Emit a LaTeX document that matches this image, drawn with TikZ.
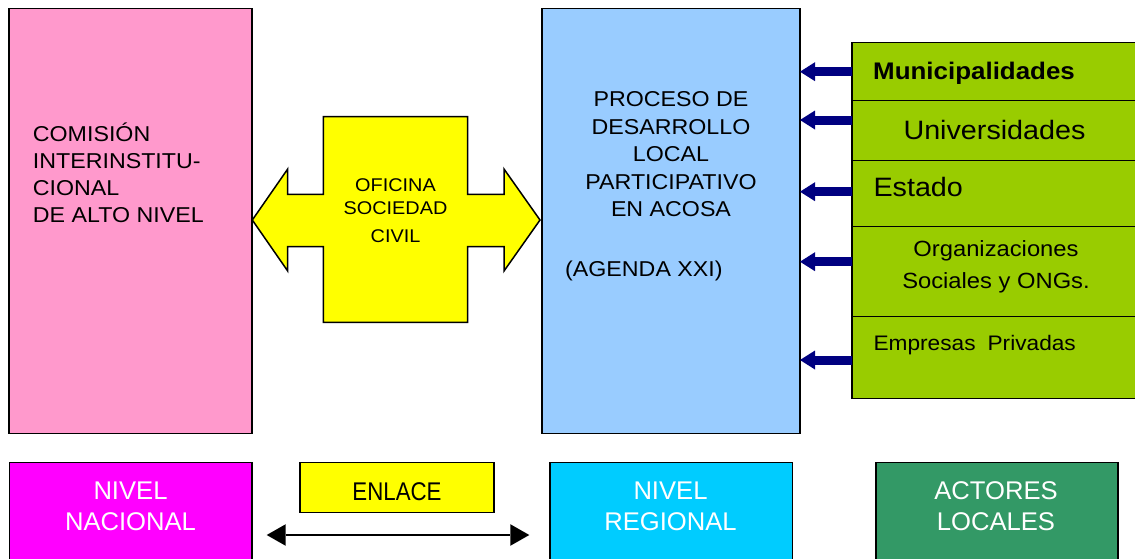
\documentclass[tikz,border=0pt]{standalone}
\usepackage{fontspec}
\setmainfont{Liberation Sans}[FakeStretch=1.08]
\newfontfamily\nivelfont{Liberation Sans}
\newfontfamily\enlacefont{Liberation Sans}[FakeStretch=0.87]
\usepackage{xcolor}
\usepackage{tikz}
\usetikzlibrary{arrows.meta}

\definecolor{rosa}{HTML}{FF99CC}
\definecolor{celeste}{HTML}{99CCFF}
\definecolor{verdelima}{HTML}{99CC00}
\definecolor{amarillo}{HTML}{FFFF00}
\definecolor{fucsia}{HTML}{FF00FF}
\definecolor{turquesa}{HTML}{00CCFF}
\definecolor{verdemar}{HTML}{339966}
\definecolor{azulmarino}{HTML}{000080}

\newcommand{\tam}[2]{\fontsize{#1}{#2}\selectfont}

\begin{document}
\begin{tikzpicture}[x=1pt, y=-1pt,
		caja/.style={draw, line width=1.5pt, inner sep=0pt, outer sep=0pt, anchor=north west},
		texto/.style={inner sep=0pt, anchor=north west, align=left},
		linea/.style={inner sep=0pt, anchor=base west},
		nivel/.style={inner sep=0pt, anchor=north, align=center, text=white, font={\nivelfont\tam{25.6}{30.7}}},
		flecha/.style={draw=azulmarino, line width=9pt, -{Triangle[length=15pt, width=19pt, line width=0pt]}},
		enlace/.style={line width=1.5pt, {Triangle[length=19pt, width=21.6pt, line width=0pt]}-{Triangle[length=19pt, width=21.6pt, line width=0pt]}}]
			\path[use as bounding box, fill=white] (0,0) rectangle (1135,558);

			% niveles
			\node[caja, fill=rosa, minimum width=243pt, minimum height=425pt] (com) at (9,8.5) {};
			\node[caja, fill=celeste, minimum width=258pt, minimum height=425pt] (proc) at (542,8.5) {};
			\node[texto, font={\tam{21.5}{26.7}}] (comtxt) at (32.7,121.7)
			{\rule{0pt}{20pt}COMISIÓN\\INTERINSTITU-\\CIONAL\\DE ALTO NIVEL};
			\node[texto, anchor=north, align=center, font={\tam{21.5}{27.5}}] (proctxt) at (671,86.7)
			{\rule{0pt}{20pt}PROCESO DE\\DESARROLLO\\LOCAL\\PARTICIPATIVO\\EN ACOSA};
			\node[linea, font={\tam{21.5}{26}}] (agenda) at (565,276.7) {(AGENDA XXI)};

			% oficina
			\draw[fill=amarillo, line width=1.5pt] (323.3,116.7) -- (467.7,116.7) -- (467.7,194.3) -- (504,194.3)
				-- (504,169) -- (540,220) -- (504,271) -- (504,246.7) -- (467.7,246.7) -- (467.7,322.3)
				-- (323.3,322.3) -- (323.3,246.7) -- (287.7,246.7) -- (287.7,271) -- (252.3,220)
				-- (287.7,169) -- (287.7,194.3) -- (323.3,194.3) -- cycle;
			\node[texto, anchor=north, align=center, font={\tam{18.4}{22.6}}] (ofi) at (395.5,174.7)
			{\rule{0pt}{17pt}OFICINA\\SOCIEDAD\\[5.8pt]CIVIL};

			% actores
			\node[caja, fill=verdelima, minimum width=293pt, minimum height=58pt] (mun) at (852,42.7) {};
			\node[caja, fill=verdelima, minimum width=293pt, minimum height=60pt] (univ) at (mun.south west) {};
			\node[caja, fill=verdelima, minimum width=293pt, minimum height=66pt] (est) at (univ.south west) {};
			\node[caja, fill=verdelima, minimum width=293pt, minimum height=90pt] (org) at (est.south west) {};
			\node[caja, fill=verdelima, minimum width=293pt, minimum height=81.6pt] (emp) at (org.south west) {};
			\node[linea, font={\bfseries\tam{24}{28}}] (muntxt) at (873,79.3) {Municipalidades};
			\node[linea, font={\tam{26.6}{30}}] (univtxt) at (903.3,139) {Universidades};
			\node[linea, font={\tam{26.6}{30}}] (esttxt) at (873.3,196.7) {Estado};
			\node[texto, anchor=north, align=center, font={\tam{22}{31.6}}] (orgtxt) at (996,239.7)
			{\rule{0pt}{17pt}Organizaciones\\Sociales y ONGs.};
			\node[linea, font={\tam{21}{25}}] (emptxt) at (873.3,350) {Empresas\hspace{12pt}Privadas};

			\draw[flecha] (mun.west) -- (mun.west -| proc.east);
			\draw[flecha] ([yshift=10.7pt]univ.west) -- ([yshift=10.7pt]univ.west -| proc.east);
			\draw[flecha] ([yshift=2pt]est.west) -- ([yshift=2pt]est.west -| proc.east);
			\draw[flecha] ([yshift=10pt]org.west) -- ([yshift=10pt]org.west -| proc.east);
			\draw[flecha] ([yshift=-2.5pt]emp.west) -- ([yshift=-2.5pt]emp.west -| proc.east);

			% leyenda
			\node[caja, fill=fucsia, minimum width=242.5pt, minimum height=110pt] (nac) at (9.5,462.5) {};
			\node[caja, fill=amarillo, minimum width=194pt, minimum height=50.4pt] (enl) at (300,462.3) {};
			\node[caja, fill=turquesa, minimum width=242.5pt, minimum height=110pt] (reg) at (550,462.5) {};
			\node[caja, fill=verdemar, minimum width=242pt, minimum height=110pt] (act) at (876,462.5) {};
			\node[nivel] (nactxt) at (130.5,480.3) {\rule{0pt}{19pt}NIVEL\\NACIONAL};
			\node[nivel] (regtxt) at (670.5,480.3) {\rule{0pt}{19pt}NIVEL\\REGIONAL};
			\node[nivel] (acttxt) at (996,480.3) {\rule{0pt}{19pt}ACTORES\\LOCALES};
			\node[inner sep=0pt, anchor=base, font={\enlacefont\tam{25.6}{30}}] (enltxt) at (397,500.7) {ENLACE};

			\coordinate (ea) at (266.7,535);
			\coordinate (eb) at (529.3,535);
			\draw[enlace] (ea) -- (eb);
		\end{tikzpicture}
\end{document}
